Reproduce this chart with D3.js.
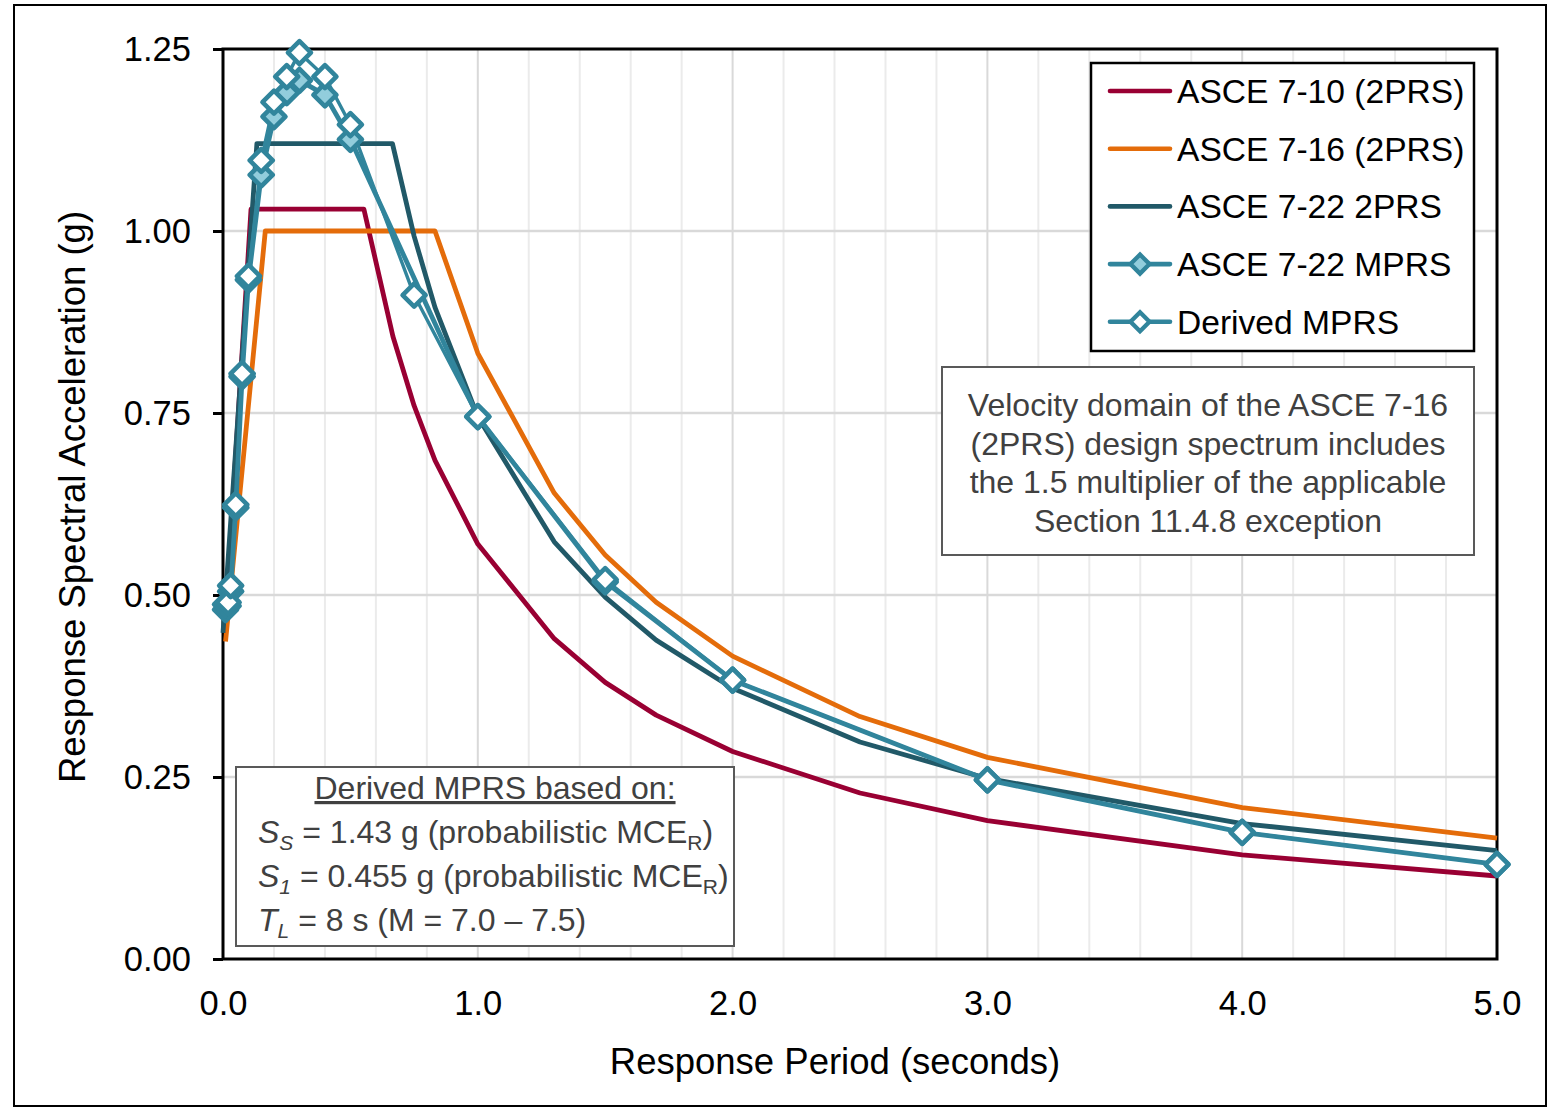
<!DOCTYPE html>
<html>
<head>
<meta charset="utf-8">
<script src="https://cdn.jsdelivr.net/npm/d3@7"></script>
<style>
  html, body { margin: 0; padding: 0; background: #fff; }
  svg { display: block; font-family: "Liberation Sans", Arial, sans-serif; }
</style>
</head>
<body>
<svg id="chart" width="1549" height="1109"></svg>
<script>
// Response spectra, period T (s) vs spectral acceleration Sa (g)
const periods710 = [0.01, 0.11, 0.553, 0.667, 0.75, 0.832, 1.0, 1.3, 1.5, 1.7, 2.0, 2.5, 3.0, 4.0, 5.0];
const sa710      = [0.468, 1.03, 1.03, 0.855, 0.76, 0.685, 0.57, 0.44, 0.38, 0.335, 0.285, 0.228, 0.19, 0.143, 0.114];

const periods716 = [0.01, 0.166, 0.832, 1.0, 1.3, 1.5, 1.7, 2.0, 2.5, 3.0, 4.0, 5.0];
const sa716      = [0.436, 1.0, 1.0, 0.832, 0.64, 0.555, 0.49, 0.416, 0.333, 0.277, 0.208, 0.166];

const periods722 = [0.0, 0.133, 0.665, 0.75, 0.832, 1.0, 1.3, 1.5, 1.7, 2.0, 2.5, 3.0, 4.0, 5.0];
const sa722      = [0.448, 1.12, 1.12, 0.993, 0.895, 0.745, 0.573, 0.497, 0.438, 0.372, 0.298, 0.248, 0.186, 0.149];

const periodsMprs = [0.01, 0.02, 0.03, 0.05, 0.075, 0.1, 0.15, 0.2, 0.25, 0.3, 0.4, 0.5, 1.0, 1.5, 2.0, 3.0, 4.0, 5.0];
const saMprs      = [0.48, 0.485, 0.505, 0.62, 0.80, 0.933, 1.077, 1.157, 1.19, 1.207, 1.187, 1.126, 0.745, 0.518, 0.383, 0.246, 0.174, 0.130];

const periodsDerived = [0.01, 0.02, 0.03, 0.05, 0.075, 0.1, 0.15, 0.2, 0.25, 0.3, 0.4, 0.5, 0.75, 1.0, 1.5, 2.0, 3.0, 4.0, 5.0];
const saDerived      = [0.487, 0.49, 0.513, 0.624, 0.804, 0.938, 1.097, 1.177, 1.212, 1.245, 1.212, 1.146, 0.912, 0.745, 0.521, 0.383, 0.246, 0.174, 0.130];

const xTicks = [0, 1, 2, 3, 4, 5];
const yTicks = [0, 0.25, 0.5, 0.75, 1.0, 1.25];
const xGrid  = [0.2, 0.4, 0.6, 0.8, 1.2, 1.4, 1.6, 1.8, 2.2, 2.4, 2.6, 2.8, 3.2, 3.4, 3.6, 3.8, 4.2, 4.4, 4.6, 4.8];

const seriesNames = ["ASCE 7-10 (2PRS)", "ASCE 7-16 (2PRS)", "ASCE 7-22 2PRS", "ASCE 7-22 MPRS", "Derived MPRS"];

const noteLines = [
  "Velocity domain of the ASCE 7-16",
  "(2PRS) design spectrum includes",
  "the 1.5 multiplier of the applicable",
  "Section 11.4.8 exception"
];

const zip = (ts, vs) => ts.map((t, i) => ({ t, v: vs[i] }));

const series = [
  { name: seriesNames[0], data: zip(periods710, sa710), color: "#990033", width: 4.8, marker: null },
  { name: seriesNames[1], data: zip(periods716, sa716), color: "#E46C0A", width: 4.8, marker: null },
  { name: seriesNames[2], data: zip(periods722, sa722), color: "#215968", width: 4.8, marker: null },
  { name: seriesNames[3], data: zip(periodsMprs, saMprs), color: "#31859C", width: 4.8, marker: "#92CDDC" },
  { name: seriesNames[4], data: zip(periodsDerived, saDerived), color: "#31859C", width: 3.4, marker: "#FFFFFF" }
];

const svg = d3.select("#chart");
const plotL = 223, plotR = 1497, plotT = 49, plotB = 959;

const x = d3.scaleLinear().domain([0, 5]).range([plotL, plotR]);
const y = d3.scaleLinear().domain([0, 1.25]).range([plotB, plotT]);

// outer chart border
svg.append("rect").attr("x", 14).attr("y", 5).attr("width", 1532).attr("height", 1101)
  .attr("fill", "#fff").attr("stroke", "#000").attr("stroke-width", 2);

// gridlines
const grid = svg.append("g");
grid.append("g").selectAll("line").data(xGrid).join("line")
  .attr("x1", d => x(d)).attr("x2", d => x(d)).attr("y1", plotT).attr("y2", plotB)
  .attr("stroke", "#EBEBEB").attr("stroke-width", 2);
grid.append("g").selectAll("line").data(xTicks.slice(1, -1)).join("line")
  .attr("x1", d => x(d)).attr("x2", d => x(d)).attr("y1", plotT).attr("y2", plotB)
  .attr("stroke", "#D9D9D9").attr("stroke-width", 2);
grid.append("g").selectAll("line").data(yTicks.slice(1, -1)).join("line")
  .attr("x1", plotL).attr("x2", plotR).attr("y1", d => y(d)).attr("y2", d => y(d))
  .attr("stroke", "#D9D9D9").attr("stroke-width", 2.5);

// axes
const yAxis = d3.axisLeft(y).tickValues(yTicks).tickFormat(d3.format(".2f")).tickSize(10).tickPadding(22);
const gy = svg.append("g").attr("transform", `translate(${plotL},0)`).call(yAxis);
gy.select(".domain").remove();
gy.selectAll(".tick line").attr("stroke", "#000").attr("stroke-width", 3);
gy.selectAll(".tick text").attr("font-size", 34.5).attr("fill", "#000")
  .attr("font-family", "'Liberation Sans', Arial, sans-serif");

const xAxis = d3.axisBottom(x).tickValues(xTicks).tickFormat(d3.format(".1f")).tickSize(0).tickPadding(32);
const gx = svg.append("g").attr("transform", `translate(0,${plotB})`).call(xAxis);
gx.select(".domain").remove();
gx.selectAll(".tick text").attr("font-size", 34.5).attr("fill", "#000")
  .attr("font-family", "'Liberation Sans', Arial, sans-serif");

// plot frame
svg.append("rect").attr("x", plotL).attr("y", plotT).attr("width", plotR - plotL).attr("height", plotB - plotT)
  .attr("fill", "none").attr("stroke", "#000").attr("stroke-width", 3);

// axis titles
svg.append("text").attr("x", 835).attr("y", 1074).attr("text-anchor", "middle")
  .attr("font-size", 36.5).attr("fill", "#000").text("Response Period (seconds)");
svg.append("text").attr("transform", `translate(85,497) rotate(-90)`)
  .attr("text-anchor", "middle").attr("font-size", 36.5).attr("fill", "#000")
  .text("Response Spectral Acceleration (g)");

// spectra lines
const line = d3.line().x(d => x(d.t)).y(d => y(d.v));
const diamond = r => `M0,${-r}L${r},0L0,${r}L${-r},0Z`;

const plot = svg.append("g");
series.forEach(s => {
  plot.append("path").datum(s.data).attr("d", line)
    .attr("fill", "none").attr("stroke", s.color).attr("stroke-width", s.width)
    .attr("stroke-linejoin", "round");
});
series.filter(s => s.marker).forEach(s => {
  plot.append("g").selectAll("path").data(s.data).join("path")
    .attr("transform", d => `translate(${x(d.t)},${y(d.v)})`)
    .attr("d", diamond(11.5))
    .attr("fill", s.marker).attr("stroke", s.color).attr("stroke-width", 4.6)
    .attr("stroke-linejoin", "round");
});

// legend
const lg = svg.append("g");
lg.append("rect").attr("x", 1091).attr("y", 63).attr("width", 383).attr("height", 288)
  .attr("fill", "#fff").attr("stroke", "#000").attr("stroke-width", 2.5);
series.forEach((s, i) => {
  const cy = 91 + i * 57.7;
  lg.append("line").attr("x1", 1110).attr("x2", 1170).attr("y1", cy).attr("y2", cy)
    .attr("stroke", s.color).attr("stroke-width", 4.6).attr("stroke-linecap", "round");
  if (s.marker) {
    lg.append("path").attr("transform", `translate(1140,${cy})`).attr("d", diamond(9.5))
      .attr("fill", s.marker).attr("stroke", s.color).attr("stroke-width", 4.3);
  }
  lg.append("text").attr("x", 1177).attr("y", cy + 12).attr("font-size", 33.6).attr("fill", "#000").text(s.name);
});

// note on ASCE 7-16 velocity domain
const note = svg.append("g");
note.append("rect").attr("x", 942).attr("y", 367).attr("width", 532).attr("height", 188)
  .attr("fill", "#fff").attr("stroke", "#595959").attr("stroke-width", 2);
note.selectAll("text").data(noteLines).join("text")
  .attr("x", 1208).attr("y", (d, i) => 416 + i * 38.5).attr("text-anchor", "middle")
  .attr("font-size", 32).attr("fill", "#404040").text(d => d);

// basis of the derived spectrum
const basis = svg.append("g");
basis.append("rect").attr("x", 236).attr("y", 767).attr("width", 498).attr("height", 179)
  .attr("fill", "#fff").attr("stroke", "#595959").attr("stroke-width", 2);
basis.append("text").attr("x", 495).attr("y", 799).attr("text-anchor", "middle")
  .attr("font-size", 32).attr("fill", "#404040").attr("text-decoration", "underline")
  .text("Derived MPRS based on:");

const basisRows = [
  { sym: "S", sub: "S", rest: " = 1.43 g (probabilistic MCE", tail: true },
  { sym: "S", sub: "1", rest: " = 0.455 g (probabilistic MCE", tail: true },
  { sym: "T", sub: "L", rest: " = 8 s (M = 7.0 \u2013 7.5)", tail: false }
];
basisRows.forEach((r, i) => {
  const t = basis.append("text").attr("x", 258).attr("y", 843 + i * 44)
    .attr("font-size", 32).attr("fill", "#404040");
  t.append("tspan").attr("font-style", "italic").text(r.sym);
  t.append("tspan").attr("font-style", "italic").attr("font-size", 21).attr("dy", 7).text(r.sub);
  t.append("tspan").attr("dy", -7).text(r.rest);
  if (r.tail) {
    t.append("tspan").attr("font-size", 21).attr("dy", 7).text("R");
    t.append("tspan").attr("dy", -7).text(")");
  }
});
</script>
</body>
</html>
